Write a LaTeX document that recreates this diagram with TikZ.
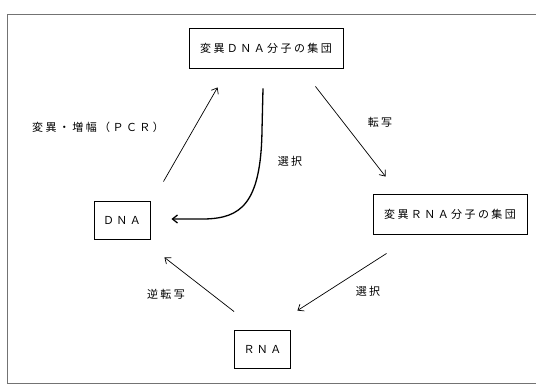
\documentclass[tikz,border=0pt]{standalone}
\usepackage{fontspec}
\setmainfont{Noto Sans CJK JP}[LetterSpace=22]
\usetikzlibrary{arrows.meta,calc}
\begin{document}
\begin{tikzpicture}[x=1pt,y=-1pt,
  box/.style={draw, line width=0.9pt, inner sep=0pt, font=\fontsize{11}{13}\selectfont},
  lbl/.style={inner sep=0pt, font=\fontsize{11}{13}\selectfont},
  arr/.style={line width=0.7pt, -{Straight Barb[length=5pt,width=8pt]}},
  sel/.style={line width=1.3pt, -{Straight Barb[length=5pt,width=8pt]}}]
\useasboundingbox (0,0) rectangle (536,387);
% frame
\draw[line width=0.8pt, black!55] (536,14) -- (7.5,14) -- (7.5,383) -- (536,383);
% boxes
\node[box, minimum width=154pt, minimum height=40pt] (mdna) at (266,48) {変異ＤＮＡ分子の集団};
\node[box, minimum width=154pt, minimum height=40pt] (mrna) at (450,214) {変異ＲＮＡ分子の集団};
\node[box, minimum width=56pt, minimum height=38pt] (dna) at (122,220) {ＤＮＡ};
\node[box, minimum width=56pt, minimum height=38pt] (rna) at (262.5,349) {ＲＮＡ};
% arrow end points
\coordinate (p1) at ($(dna.north east)+(13,-19)$);
\coordinate (p2) at ($(mdna.south west)+(29,19)$);
\coordinate (p3) at ($(mdna.south east)+(-28,18)$);
\coordinate (p4) at ($(mrna.north west)+(13,-17)$);
\coordinate (p5) at ($(mrna.south west)+(14,19)$);
\coordinate (p6) at ($(rna.north east)+(6.5,-19)$);
\coordinate (p7) at ($(rna.north west)+(0,-18)$);
\coordinate (p8) at ($(dna.south east)+(14,18)$);
\coordinate (c1) at ($(mdna.south)+(-3,20)$);
\coordinate (c2) at ($(dna.east)+(21,-1)$);
% arrows
\draw[arr] (p1) -- (p2);
\draw[arr] (p3) -- (p4);
\draw[arr] (p5) -- (p6);
\draw[arr] (p7) -- (p8);
\draw[sel] (c1) -- (262,130) .. controls (261,205) and (240,218) .. (205,219) -- (c2);
% labels
\node[lbl] (l1) at (98,127) {変異・増幅（ＰＣＲ）};
\node[lbl] (l2) at (380,122) {転写};
\node[lbl] (l3) at (290,161) {選択};
\node[lbl] (l4) at (368,291) {選択};
\node[lbl] (l5) at (166,294) {逆転写};
\end{tikzpicture}
\end{document}
